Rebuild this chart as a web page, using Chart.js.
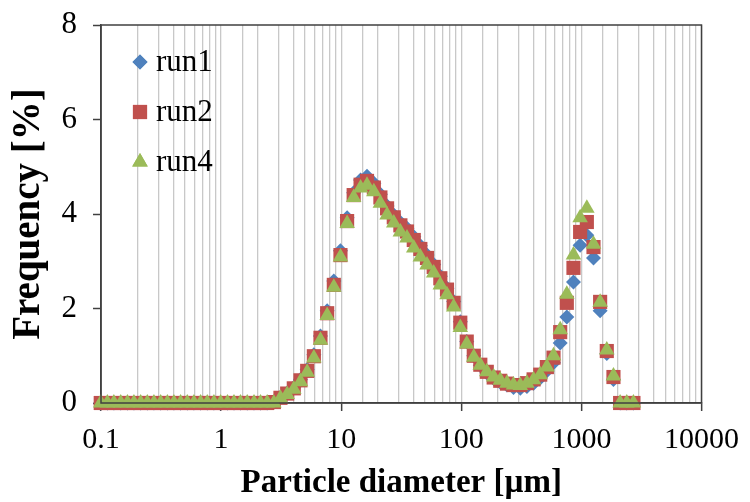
<!DOCTYPE html>
<html>
<head>
<meta charset="utf-8">
<script src="https://cdn.jsdelivr.net/npm/chart.js@4/dist/chart.umd.min.js"></script>
<style>
  html, body { margin: 0; padding: 0; background: #fff; }
  #wrap { width: 750px; height: 502px; }
</style>
</head>
<body>
<div id="wrap"><canvas id="chart" width="750" height="502"></canvas></div>
<script>
// particle size classes [µm]
const sizes = [
  0.0876, 0.0995, 0.113, 0.128, 0.146, 0.166, 0.188, 0.214, 0.243, 0.276,
  0.314, 0.357, 0.405, 0.460, 0.523, 0.594, 0.675, 0.767, 0.872, 0.991,
  1.13, 1.28, 1.45, 1.65, 1.88, 2.13, 2.42, 2.75, 3.12, 3.55,
  4.03, 4.58, 5.21, 5.92, 6.72, 7.64, 8.68, 9.86, 11.2, 12.7,
  14.5, 16.4, 18.7, 21.2, 24.1, 27.4, 31.1, 35.3, 40.2, 45.6,
  51.8, 58.9, 66.9, 76.0, 86.4, 98.1, 111, 127, 144, 163,
  186, 211, 240, 272, 310, 352, 400, 454, 516, 586,
  666, 756, 859, 976, 1110, 1261, 1432, 1627, 1849, 2101,
  2387, 2712
];

// frequency [%]
const run1 = [
  0, 0, 0, 0, 0, 0, 0, 0, 0, 0,
  0, 0, 0, 0, 0, 0, 0, 0, 0, 0,
  0, 0, 0, 0, 0, 0, 0, 0.02, 0.12, 0.21,
  0.33, 0.5, 0.71, 1.02, 1.42, 1.95, 2.58, 3.22, 3.92, 4.45,
  4.72, 4.8, 4.65, 4.42, 4.17, 3.98, 3.82, 3.7, 3.52, 3.33,
  3.13, 2.93, 2.68, 2.43, 2.15, 1.72, 1.3, 1.0, 0.8, 0.64,
  0.52, 0.44, 0.38, 0.33, 0.31, 0.35, 0.42, 0.53, 0.68, 0.85,
  1.27, 1.82, 2.56, 3.34, 3.55, 3.07, 1.95, 1.05, 0.5, 0,
  0, 0
];
const run2 = [
  0, 0, 0, 0, 0, 0, 0, 0, 0, 0,
  0, 0, 0, 0, 0, 0, 0, 0, 0, 0,
  0, 0, 0, 0, 0, 0, 0, 0.02, 0.11, 0.2,
  0.31, 0.48, 0.68, 0.99, 1.38, 1.9, 2.5, 3.13, 3.85, 4.4,
  4.62, 4.7, 4.56, 4.35, 4.12, 3.93, 3.76, 3.63, 3.45, 3.26,
  3.07, 2.88, 2.64, 2.4, 2.12, 1.7, 1.3, 1.0, 0.81, 0.66,
  0.54, 0.47, 0.41, 0.38, 0.38, 0.42, 0.5, 0.6, 0.76, 0.96,
  1.5, 2.12, 2.86, 3.62, 3.83, 3.3, 2.14, 1.1, 0.55, 0,
  0, 0
];
const run4 = [
  0, 0, 0, 0, 0, 0, 0, 0, 0, 0,
  0, 0, 0, 0, 0, 0, 0, 0, 0, 0,
  0, 0, 0, 0, 0, 0, 0, 0, 0.1, 0.18,
  0.29, 0.45, 0.65, 0.95, 1.33, 1.85, 2.45, 3.09, 3.8, 4.35,
  4.55, 4.61, 4.47, 4.23, 3.98, 3.81, 3.62, 3.49, 3.28, 3.09,
  2.92, 2.75, 2.5, 2.29, 2.03, 1.6, 1.25, 0.97, 0.8, 0.66,
  0.55, 0.48, 0.42, 0.38, 0.37, 0.42, 0.49, 0.6, 0.76, 1.0,
  1.55, 2.3, 3.13, 3.92, 4.12, 3.36, 2.13, 1.12, 0.57, 0,
  0, 0
];

const seriesNames = ['run1', 'run2', 'run4'];
const seriesData = [run1, run2, run4];
const colors = ['#4f81bd', '#c0504d', '#9bbb59'];
const styles = ['rectRot', 'rect', 'triangle'];
const radii = [7.5, 10, 9];
const yTicks = [0, 2, 4, 6, 8];

const serif = '"Liberation Serif", "Times New Roman", serif';

const isDecade = v => {
  const l = Math.log10(v);
  return Math.abs(l - Math.round(l)) < 1e-6;
};

const datasets = seriesNames.map((name, i) => ({
  label: name,
  data: sizes.map((x, j) => ({ x: x, y: seriesData[i][j] })),
  showLine: false,
  pointStyle: styles[i],
  pointRadius: radii[i],
  pointHoverRadius: radii[i],
  pointBackgroundColor: colors[i],
  pointBorderColor: colors[i],
  pointBorderWidth: 0,
  backgroundColor: colors[i],
  borderColor: colors[i],
  order: 3 - i,
  clip: false
}));

// frame round the plot area
const framePlugin = {
  id: 'frame',
  afterDraw(chart) {
    const a = chart.chartArea;
    const ctx = chart.ctx;
    ctx.save();
    ctx.strokeStyle = '#404040';
    ctx.lineWidth = 1.5;
    ctx.strokeRect(a.left, a.top, a.right - a.left, a.bottom - a.top);
    ctx.restore();
  }
};

// legend inside the plot, top left
const innerLegend = {
  id: 'innerLegend',
  afterDraw(chart) {
    const ctx = chart.ctx;
    const a = chart.chartArea;
    ctx.save();
    ctx.font = '31px ' + serif;
    ctx.textBaseline = 'middle';
    seriesNames.forEach((name, i) => {
      const cx = a.left + 39;
      const cy = a.top + 37 + i * 50;
      ctx.fillStyle = colors[i];
      Chart.helpers.drawPoint(ctx, { pointStyle: styles[i], radius: radii[i], rotation: 0, borderWidth: 0 }, cx, cy);
      ctx.fill();
      ctx.fillStyle = '#000';
      ctx.fillText(name, cx + 16, cy + 1);
    });
    ctx.restore();
  }
};

new Chart(document.getElementById('chart'), {
  type: 'scatter',
  data: { datasets: datasets },
  plugins: [framePlugin, innerLegend],
  options: {
    responsive: false,
    devicePixelRatio: 1,
    animation: false,
    layout: { padding: { top: 25, right: 46, left: 0, bottom: 0 } },
    plugins: {
      legend: { display: false },
      tooltip: { enabled: false }
    },
    scales: {
      x: {
        type: 'logarithmic',
        min: 0.1,
        max: 10000,
        afterFit: s => { s.height = 99; },
        grid: {
          color: '#c8c8c8',
          lineWidth: 1.3,
          tickLength: 8,
          tickColor: c => (c.tick && isDecade(c.tick.value)) ? '#404040' : 'rgba(0,0,0,0)',
          tickWidth: 1.5
        },
        border: { color: '#404040', width: 1.5 },
        ticks: {
          autoSkip: false,
          maxRotation: 0,
          padding: 11,
          color: '#000',
          font: { family: serif, size: 30 },
          callback: v => isDecade(v) ? String(Number(v.toPrecision(1))) : ''
        },
        title: {
          display: true,
          text: 'Particle diameter [µm]',
          color: '#000',
          padding: { top: 0, bottom: 0 },
          font: { family: serif, size: 33, weight: 'bold', lineHeight: 1.1 }
        }
      },
      y: {
        min: 0,
        max: 8,
        afterFit: s => { s.width = 101; s.paddingTop = 0; s.paddingBottom = 0; },
        afterBuildTicks: s => { s.ticks = yTicks.map(v => ({ value: v })); },
        grid: {
          drawOnChartArea: false,
          tickLength: 8,
          tickColor: '#404040',
          tickWidth: 1.5
        },
        border: { color: '#404040', width: 1.5 },
        ticks: {
          padding: 16,
          color: '#000',
          font: { family: serif, size: 31 }
        },
        title: {
          display: true,
          text: 'Frequency [%]',
          color: '#000',
          padding: { top: 6, bottom: 6 },
          font: { family: serif, size: 39, weight: 'bold', lineHeight: 1.2 }
        }
      }
    }
  }
});
</script>
</body>
</html>
